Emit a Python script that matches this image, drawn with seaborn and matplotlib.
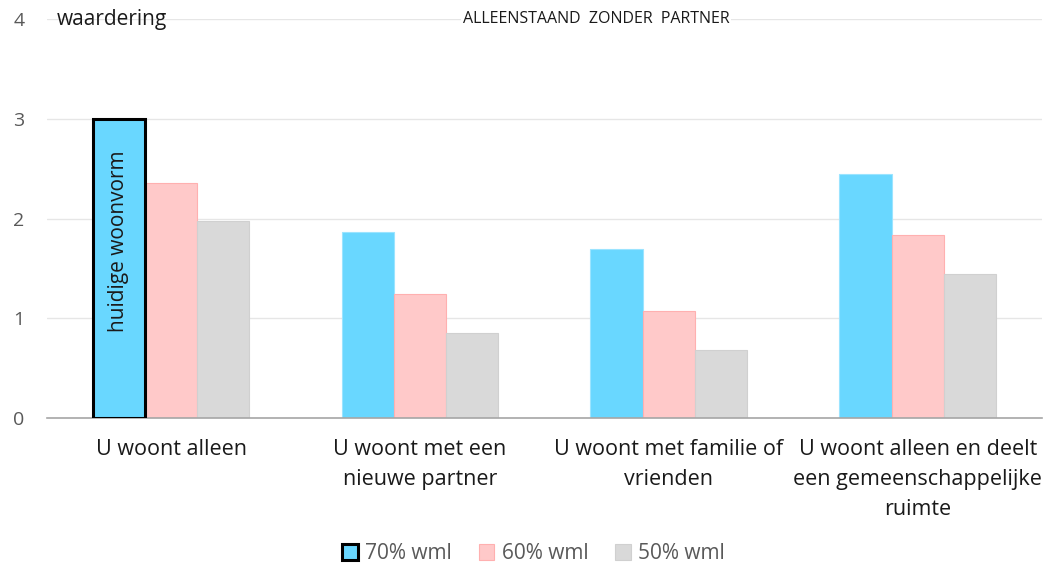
import matplotlib
matplotlib.use("Agg")
import matplotlib.pyplot as plt
import pandas as pd
import seaborn as sns

categories = [
    "U woont alleen",
    "U woont met een\nnieuwe partner",
    "U woont met familie of\nvrienden",
    "U woont alleen en deelt\neen gemeenschappelijke\nruimte",
]
series = ["70% wml", "60% wml", "50% wml"]
values_70 = [3.00, 1.87, 1.70, 2.45]
values_60 = [2.36, 1.24, 1.07, 1.84]
values_50 = [1.98, 0.85, 0.68, 1.44]
colors = ["#69D7FF", "#FFC9C9", "#D9D9D9"]
edges = ["#9BE4FF", "#FFB0B0", "#D0D0D0"]

df = pd.DataFrame({
    "cat": categories * 3,
    "serie": [s for s in series for _ in categories],
    "waarde": values_70 + values_60 + values_50,
})

sns.set_style("white")
plt.rcParams["font.family"] = ["Open Sans", "DejaVu Sans"]

fig = plt.figure(figsize=(10.46, 5.65), dpi=100)
ax = fig.add_axes([0.0445, 0.26, 0.952, 0.706])
sns.barplot(data=df, x="cat", y="waarde", hue="serie", order=categories,
            hue_order=series, palette=colors, width=0.63, saturation=1,
            ax=ax, legend=False)

for cont, ec in zip(ax.containers, edges):
    for p in cont.patches:
        p.set_edgecolor(ec); p.set_linewidth(0.8)
first = ax.containers[0].patches[0]
first.set_edgecolor("black"); first.set_linewidth(2.2); first.set_zorder(3)

bx = first.get_x() + first.get_width() / 2
ax.text(bx, 1.77, "huidige woonvorm", rotation=90, ha="center", va="center",
        fontsize=15, color="#1a1a1a", zorder=4)

ax.set_ylim(0, 4); ax.set_xlim(-0.5, 3.5)
ax.set_yticks([0, 1, 2, 3, 4])
ax.yaxis.grid(True, color="#E6E6E6", linewidth=1); ax.set_axisbelow(True)
ax.tick_params(axis="y", labelsize=14, labelcolor="#595959", length=0, pad=16)
ax.tick_params(axis="x", labelsize=15.5, labelcolor="#1a1a1a", length=0, pad=15)
for lab in ax.get_xticklabels():
    lab.set_linespacing(1.55)
ax.set_xlabel(""); ax.set_ylabel("")
for s in ["top", "right", "left"]:
    ax.spines[s].set_visible(False)
ax.spines["bottom"].set_color("#A6A6A6"); ax.spines["bottom"].set_linewidth(1.2)

ax.text(-0.46, 4.0, "waardering", fontsize=15, color="#1a1a1a", va="center", ha="left")
fig.text(0.57, 0.966, "ALLEENSTAAND  ZONDER  PARTNER", fontsize=11.5, color="#1a1a1a",
         ha="center", va="center",
         bbox=dict(facecolor="white", edgecolor="none", pad=1))

handles = [c.patches[0] for c in ax.containers]
fig.legend(handles, series, loc="center", bbox_to_anchor=(0.51, 0.02), ncol=3,
           frameon=False, fontsize=15, labelcolor="#595959", handlelength=0.75,
           handleheight=0.75, handletextpad=0.35, columnspacing=1.3)

fig.savefig("out.png", dpi=100)
